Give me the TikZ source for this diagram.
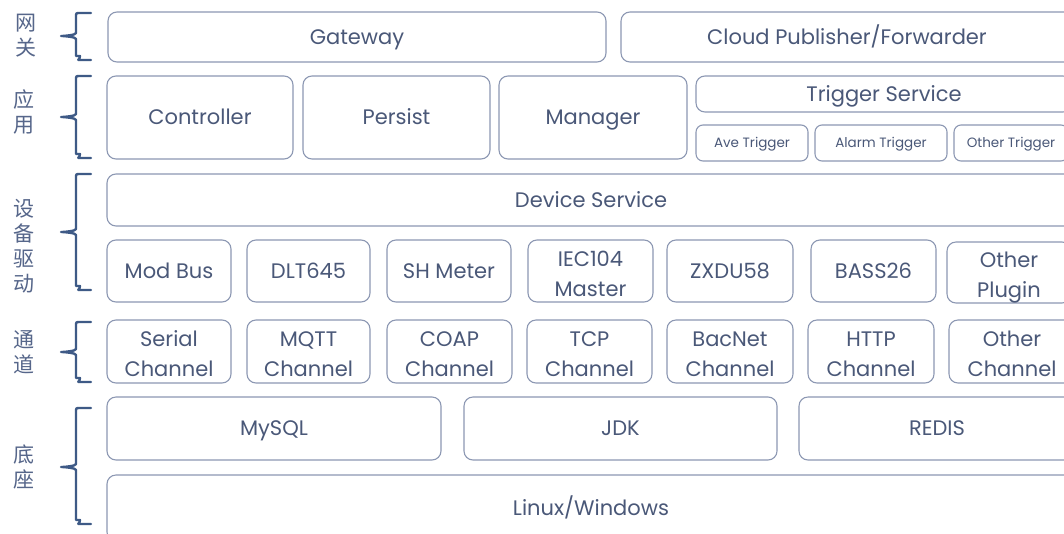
\documentclass[tikz,border=0pt]{standalone}
\usepackage{fontspec}
\setmainfont{Poppins}
\newfontfamily\cjk{Noto Sans CJK SC}
\definecolor{bordc}{HTML}{8D98B3}
\definecolor{txtc}{HTML}{4A5878}
\definecolor{lblc}{HTML}{56668A}
\definecolor{bracec}{HTML}{3E5A86}
\tikzset{
  box/.style={draw=bordc, line width=1.1pt, rounded corners=9pt, fill=white, text=txtc,
    inner sep=0pt, align=center, font=\fontsize{21}{29}\selectfont},
  one/.style={box, text height=15.5pt, text depth=1pt},
  two/.style={box, font=\fontsize{21}{30}\selectfont, text height=51pt, text depth=1pt},
  smallbox/.style={box, rounded corners=7pt, font=\fontsize{13.5}{16}\selectfont, text height=10pt, text depth=0.5pt},
  lbl/.style={text=lblc, font=\cjk\fontsize{21}{25}\selectfont, align=center, inner sep=0pt},
  brc/.style={draw=bracec, line width=2.4pt, line cap=round, line join=round}
}
% \bx[style]{name}{x1}{y1}{x2}{y2}{text}
\newcommand\bx[7][one]{\node[#1, minimum width={(#5-#3)*1pt}, minimum height={(#6-#4)*1pt}] (#2) at ({(#3+#5)/2},{(#4+#6)/2}) {#7};}
% \mybrace{name}{top}{bottom}{tip}
\newcommand\mybrace[4]{%
  \coordinate (#1t) at (91,#2);
  \coordinate (#1b) at (91,#3);
  \coordinate (#1m) at (61,#4);
  \draw[brc] (#1t) -- ++(-11,0) .. controls +(-4,0) and +(0,-4) .. ++(-4,4) |- ($(#1m)+(15,-3)$) .. controls +(0,2) and +(4,0) .. (#1m)
    .. controls +(4,0) and +(0,-2) .. ($(#1m)+(15,3)$) |- ($(#1b)+(-11,-4)$) .. controls +(0,4) and +(-4,0) .. ($(#1b)+(-11,0)$) -- (#1b);}
\usetikzlibrary{calc}
\begin{document}
\begin{tikzpicture}[x=1pt,y=-1pt]
\useasboundingbox (0,0) rectangle (1064,533);
\clip (0,0) rectangle (1064,533);
\fill[white] (0,0) rectangle (1064,533);
% row 1
\bx{gw}{108}{12}{606}{62}{Gateway}
\bx{cloud}{621}{12}{1073}{62}{Cloud Publisher/Forwarder}
% row 2
\bx{ctrl}{107}{76}{293}{159}{Controller}
\bx{pers}{303}{76}{490}{159}{Persist}
\bx{mgr}{499}{76}{687}{159}{Manager}
\bx{trig}{696}{76}{1072}{112}{Trigger Service}
\bx[smallbox]{ave}{696}{125}{808}{161}{Ave Trigger}
\bx[smallbox]{alarm}{815}{125}{947}{161}{Alarm Trigger}
\bx[smallbox]{otrig}{954}{125}{1068}{161}{Other Trigger}
% row 3
\bx{dev}{107}{174}{1075}{226}{Device Service}
\bx{modbus}{107}{240}{231}{302}{Mod Bus}
\bx{dlt}{247}{240}{370}{302}{DLT645}
\bx{sh}{387}{240}{511}{302}{SH Meter}
\bx[two]{iec}{528}{240}{653}{302}{IEC104\\Master}
\bx{zx}{667}{240}{793}{302}{ZXDU58}
\bx{bass}{811}{240}{936}{302}{BASS26}
\bx[two]{oplug}{947}{242}{1071}{303}{Other\\Plugin}
% row 4
\bx[two]{serial}{107}{320}{231}{383}{Serial\\Channel}
\bx[two]{mqtt}{247}{320}{370}{383}{MQTT\\Channel}
\bx[two]{coap}{387}{320}{512}{383}{COAP\\Channel}
\bx[two]{tcp}{527}{320}{652}{383}{TCP\\Channel}
\bx[two]{bac}{667}{320}{793}{383}{BacNet\\Channel}
\bx[two]{http}{808}{320}{934}{383}{HTTP\\Channel}
\bx[two]{ochan}{949}{320}{1075}{383}{Other\\Channel}
% row 5
\bx{mysql}{107}{397}{441}{460}{MySQL}
\bx{jdk}{464}{397}{777}{460}{JDK}
\bx{redis}{799}{397}{1075}{460}{REDIS}
\bx{os}{107}{475}{1075}{541}{Linux/Windows}
% braces
\mybrace{b1}{13}{60}{36}
\mybrace{b2}{76}{158}{117}
\mybrace{b3}{174}{290}{232}
\mybrace{b4}{322}{382}{352}
\mybrace{b5}{408}{524}{467}
% labels
\node[lbl] (l1) at (26,36) {网\\关};
\node[lbl] (l2) at (24,112) {应\\用};
\node[lbl] (l3) at (24,246) {设\\备\\驱\\动};
\node[lbl] (l4) at (24,352) {通\\道};
\node[lbl] (l5) at (24,467) {底\\座};
\end{tikzpicture}
\end{document}
